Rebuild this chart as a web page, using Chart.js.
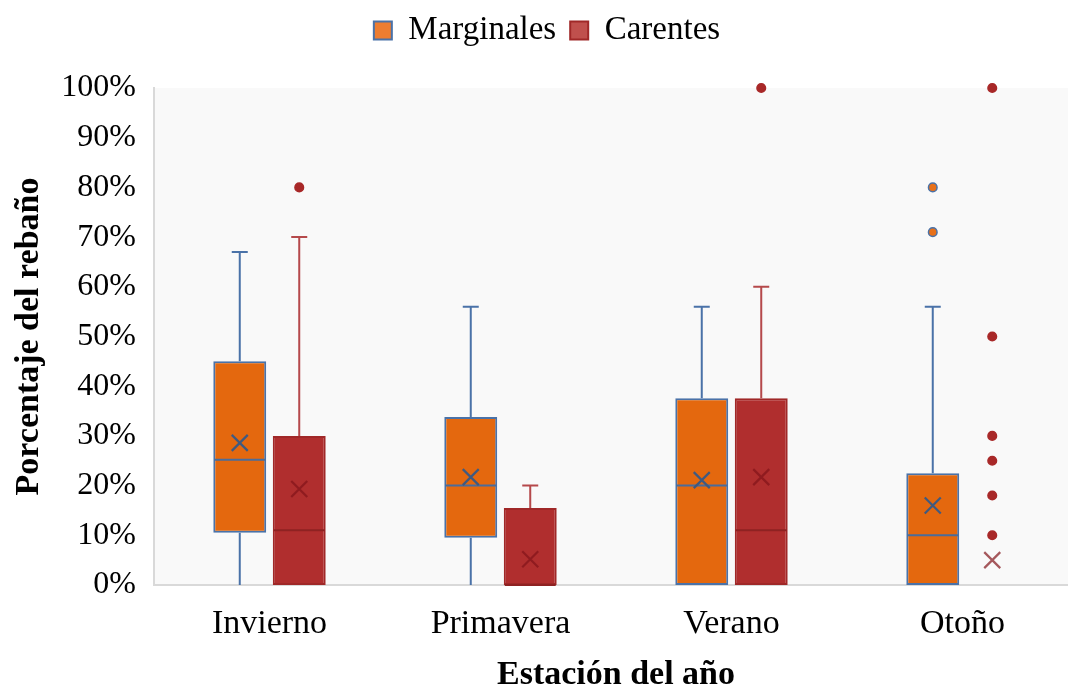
<!DOCTYPE html>
<html>
<head>
<meta charset="utf-8">
<script src="https://cdn.jsdelivr.net/npm/chart.js@4.4.1/dist/chart.umd.min.js"></script>
<style>
  html, body { margin: 0; padding: 0; background: #fff; overflow: hidden; }
  #grafico { display: block; }
</style>
</head>
<body>
<canvas id="grafico" width="1080" height="698"></canvas>
<script>
// estaciones (eje X)
const estaciones = ["Invierno", "Primavera", "Verano", "Otoño"];
const ticksY = [0, 0.1, 0.2, 0.3, 0.4, 0.5, 0.6, 0.7, 0.8, 0.9, 1];

// Marginales
const margMin = [0, 0, 0, 0];
const margQ1 = [0.105, 0.095, 0, 0];
const margMediana = [0.252, 0.20, 0.20, 0.10];
const margQ3 = [0.45, 0.338, 0.376, 0.225];
const margMax = [0.67, 0.56, 0.56, 0.56];
const margMedia = [0.286, 0.217, 0.211, 0.16];
const margAtipicos = [[], [], [], [0.71, 0.80]];

// Carentes
const carMin = [0, 0, 0, 0];
const carQ1 = [0, 0, 0, 0];
const carMediana = [0.11, 0, 0.11, 0];
const carQ3 = [0.30, 0.155, 0.376, 0];
const carMax = [0.70, 0.20, 0.60, 0];
const carMedia = [0.193, 0.052, 0.217, 0.05];
const carAtipicos = [[0.80], [], [1.0], [0.10, 0.18, 0.25, 0.30, 0.50, 1.0]];

const FUENTE = "'Liberation Serif', 'Times New Roman', serif";
const ALTO = 698;
//colores de la leyenda (un poco mas claros que las cajas)
const coloresLeyenda = ["#ED7D31", "#C0504D"];

// estadisticos y estilos por serie (mismo orden que los datasets)
const series = [
  {
    min: margMin, q1: margQ1, med: margMediana, q3: margQ3, max: margMax, media: margMedia, out: margAtipicos,
    bigote: "#4A72A8", mediana: "#4A6C9B", cruz: "#3F5A80", puntoFondo: "#E8711A", puntoBorde: "#4A72A8"
  },
  {
    min: carMin, q1: carQ1, med: carMediana, q3: carQ3, max: carMax, media: carMedia, out: carAtipicos,
    bigote: "#B5494B", mediana: "#8E2222", cruz: "rgba(130,20,25,0.7)", puntoFondo: "#A82828", puntoBorde: "#A82828"
  }
];

//Plugin que dibuja bigotes, medianas, medias y atipicos sobre las barras flotantes
const cajasPlugin = {
  id: "cajas",
  beforeDraw(chart) {
    const { ctx, chartArea } = chart;
    ctx.save();
    ctx.fillStyle = "#F9F9F9";
    ctx.fillRect(chartArea.left, chartArea.top, chartArea.right - chartArea.left, chartArea.bottom - chartArea.top);
    ctx.restore();
  },
  beforeDatasetsDraw(chart) {
    const { ctx } = chart;
    const y = chart.scales.y;
    ctx.save();
    ctx.lineWidth = 2;
    series.forEach((s, d) => {
      chart.getDatasetMeta(d).data.forEach((bar, i) => {
        const x = bar.x;
        ctx.strokeStyle = s.bigote;
        ctx.beginPath();
        if (s.max[i] > s.q3[i]) {
          ctx.moveTo(x, y.getPixelForValue(s.q3[i]));
          ctx.lineTo(x, y.getPixelForValue(s.max[i]));
          ctx.moveTo(x - 8, y.getPixelForValue(s.max[i]));
          ctx.lineTo(x + 8, y.getPixelForValue(s.max[i]));
        }
        if (s.min[i] < s.q1[i]) {
          ctx.moveTo(x, y.getPixelForValue(s.q1[i]));
          ctx.lineTo(x, y.getPixelForValue(s.min[i]));
          if (s.min[i] > 0) {
            ctx.moveTo(x - 8, y.getPixelForValue(s.min[i]));
            ctx.lineTo(x + 8, y.getPixelForValue(s.min[i]));
          }
        }
        ctx.stroke();
      });
    });
    ctx.restore();
  },
  afterDatasetsDraw(chart) {
    const { ctx } = chart;
    const y = chart.scales.y;
    ctx.save();
    series.forEach((s, d) => {
      chart.getDatasetMeta(d).data.forEach((bar, i) => {
        const x = bar.x;
        const half = bar.width / 2;
        //mediana
        if (s.q3[i] > s.q1[i]) {
          ctx.strokeStyle = s.mediana;
          ctx.lineWidth = 2;
          ctx.beginPath();
          ctx.moveTo(x - half + 1, y.getPixelForValue(s.med[i]));
          ctx.lineTo(x + half - 1, y.getPixelForValue(s.med[i]));
          ctx.stroke();
        }
        //media (X)
        const ym = y.getPixelForValue(s.media[i]);
        ctx.strokeStyle = s.cruz;
        ctx.lineWidth = 2.2;
        ctx.beginPath();
        ctx.moveTo(x - 8, ym - 8);
        ctx.lineTo(x + 8, ym + 8);
        ctx.moveTo(x + 8, ym - 8);
        ctx.lineTo(x - 8, ym + 8);
        ctx.stroke();
        //atipicos
        s.out[i].forEach((v) => {
          ctx.beginPath();
          ctx.arc(x, y.getPixelForValue(v), 4.3, 0, Math.PI * 2);
          ctx.fillStyle = s.puntoFondo;
          ctx.fill();
          ctx.lineWidth = 1.5;
          ctx.strokeStyle = s.puntoBorde;
          ctx.stroke();
        });
      });
    });
    ctx.restore();
  }
};

new Chart(document.getElementById("grafico"), {
  type: "bar",
  data: {
    labels: estaciones,
    datasets: [
      {
        label: "Marginales",
        data: estaciones.map((e, i) => [margQ1[i], margQ3[i]]),
        backgroundColor: "#E4680E",
        borderColor: "#4A72A8",
        borderWidth: 2,
        borderSkipped: false,
        barPercentage: 0.89,
        categoryPercentage: 0.515
      },
      {
        label: "Carentes",
        data: estaciones.map((e, i) => [carQ1[i], carQ3[i]]),
        backgroundColor: "#B02E2E",
        borderColor: "#A02828",
        borderWidth: 2,
        borderSkipped: false,
        barPercentage: 0.89,
        categoryPercentage: 0.515
      }
    ]
  },
  options: {
    responsive: false,
    animation: false,
    layout: { padding: { left: 16, right: 2, top: 0, bottom: 0 } },
    plugins: {
      tooltip: { enabled: false },
      legend: {
        position: "top",
        labels: {
          font: { family: FUENTE, size: 33 },
          color: "#000",
          boxWidth: 18,
          boxHeight: 18,
          padding: 14,
          generateLabels(chart) {
            const items = Chart.defaults.plugins.legend.labels.generateLabels(chart);
            items.forEach((it, k) => { it.fillStyle = coloresLeyenda[k]; });
            return items;
          }
        }
      },
      //espacio entre leyenda y grafico
      subtitle: {
        display: true,
        text: "",
        position: "top",
        weight: 500,
        font: { size: 10 },
        padding: { top: 19, bottom: 0 }
      }
    },
    scales: {
      x: {
        grid: { display: false, drawTicks: false },
        border: { color: "#D9D9D9", width: 2 },
        ticks: { font: { family: FUENTE, size: 34 }, color: "#000", padding: 19 },
        title: {
          display: true,
          text: "Estación del año",
          font: { family: FUENTE, size: 34, weight: "bold" },
          color: "#000",
          padding: { top: 0, bottom: 2 }
        },
        afterFit(s) { s.height = ALTO - 585; }
      },
      y: {
        min: 0,
        max: 1,
        afterBuildTicks(s) { s.ticks = ticksY.map((v) => ({ value: v })); },
        grid: { display: false, drawTicks: false },
        border: { color: "#D9D9D9", width: 2 },
        ticks: {
          font: { family: FUENTE, size: 32 },
          color: "#000",
          padding: 18,
          callback: (v) => Math.round(v * 100) + "%"
        },
        title: {
          display: true,
          text: "Porcentaje del rebaño",
          font: { family: FUENTE, size: 34, weight: "bold" },
          color: "#000",
          padding: { top: -7, bottom: 0 }
        },
        afterFit(s) { s.width = 138; }
      }
    }
  },
  plugins: [cajasPlugin]
});
</script>
</body>
</html>
